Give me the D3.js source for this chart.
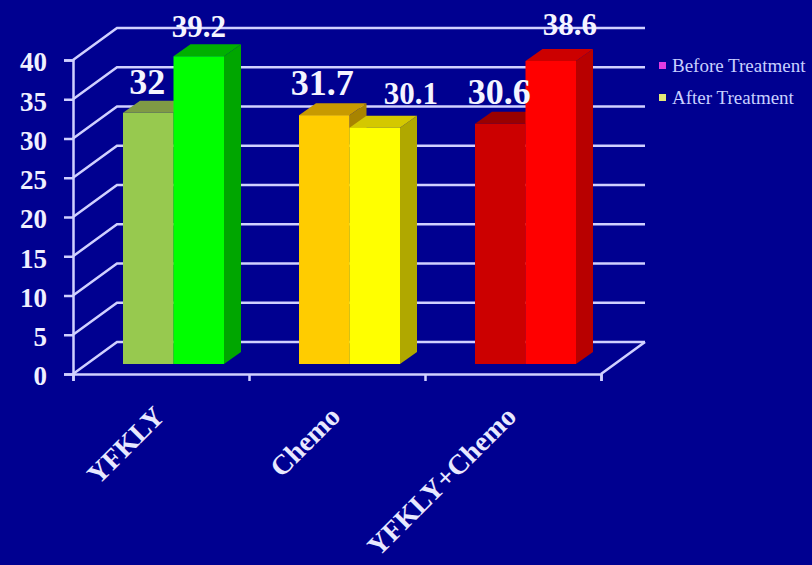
<!DOCTYPE html>
<html>
<head>
<meta charset="utf-8">
<script src="https://cdn.jsdelivr.net/npm/d3@7/dist/d3.min.js"></script>
<style>
  html, body { margin: 0; padding: 0; background: #000090; }
  svg { display: block; }
  text { font-family: "Liberation Serif", serif; }
</style>
</head>
<body>
<svg id="chart" width="812" height="565"></svg>
<script>
const categories = ["YFKLY", "Chemo", "YFKLY+Chemo"];
const seriesNames = ["Before Treatment", "After Treatment"];
const beforeTreatment = [32, 31.7, 30.6];
const afterTreatment = [39.2, 30.1, 38.6];
const yTicks = [0, 5, 10, 15, 20, 25, 30, 35, 40];

// Each bar has its own fill: front, side and top faces.
const beforeFaces = [
  ["#97c94f", "#5f8a2a", "#7f9a45"],
  ["#ffcc00", "#a88400", "#c89a00"],
  ["#cc0000", "#8c0000", "#990000"]
];
const afterFaces = [
  ["#00ff00", "#00a600", "#00b000"],
  ["#ffff00", "#b0a800", "#d4c800"],
  ["#ff0000", "#b80000", "#cc0000"]
];
const legendColors = ["#e23ce2", "#e4e878"];

// Label shifts relative to the top centre of each bar.
const beforeLabelShift = [[-1, -19], [-2, -20], [-1, -20]];
const afterLabelShift = [[0, -19], [36, -24], [19, -26]];

const INK = "#d0d0ff";
const svg = d3.select("#chart");

const plot = { left: 73, right: 601, top: 60, bottom: 374 };
const wall = { dx: 44, dy: -32 };     // depth of the chart box
const barDepth = { dx: 17, dy: -12 }; // depth of a single bar
const barLift = -10;                  // bars stand inside the floor

const y = d3.scaleLinear().domain([0, 40]).range([plot.bottom, plot.top]);
const x0 = d3.scaleBand().domain(categories).range([plot.left, plot.right]);
const x1 = d3.scaleBand().domain(seriesNames).range([50, 151]);

// Back wall gridlines with their receding left segment, plus the floor edge.
const grid = svg.append("g").attr("fill", "none").attr("stroke", INK).attr("stroke-width", 2.5);
grid.selectAll("path").data(yTicks).join("path")
  .attr("d", t => d3.line()([
    [plot.left, y(t)],
    [plot.left + wall.dx, y(t) + wall.dy],
    [plot.right + wall.dx, y(t) + wall.dy]
  ]));
grid.append("path").attr("d", d3.line()([
  [plot.right, plot.bottom],
  [plot.right + wall.dx, plot.bottom + wall.dy]
]));

// Axes
const yAxis = svg.append("g")
  .attr("transform", `translate(${plot.left},0)`)
  .call(d3.axisLeft(y).tickValues(yTicks).tickSize(9).tickPadding(17));
const xAxis = svg.append("g")
  .attr("transform", `translate(0,${plot.bottom})`)
  .call(d3.axisBottom(d3.scaleLinear().domain([0, 3]).range([plot.left, plot.right]))
    .tickValues([0, 1, 2, 3]).tickSize(7).tickFormat(""));
[yAxis, xAxis].forEach(a => {
  a.selectAll("path, line").attr("stroke", INK).attr("stroke-width", 2.5);
});
yAxis.selectAll("text")
  .attr("fill", "#f0f0ff")
  .attr("font-size", 27)
  .attr("font-weight", "bold")
  .attr("dy", "0.4em")
  .style("font-family", '"Liberation Serif", serif');

// Bars, before then after, so the nearer neighbour overlaps the side face.
const bars = categories.flatMap((c, i) => [
  { c, i, s: seriesNames[0], v: beforeTreatment[i], faces: beforeFaces[i], shift: beforeLabelShift[i], size: 36 },
  { c, i, s: seriesNames[1], v: afterTreatment[i], faces: afterFaces[i], shift: afterLabelShift[i], size: 31 }
]);

const barG = svg.append("g").selectAll("g").data(bars).join("g");
const geom = d => {
  const l = x0(d.c) + x1(d.s), r = l + x1.bandwidth();
  const t = y(d.v) + barLift, b = y(0) + barLift;
  return { l, r, t, b };
};
barG.append("path").attr("fill", d => d.faces[1]).attr("d", d => {
  const { r, t, b } = geom(d);
  return d3.line()([[r, t], [r + barDepth.dx, t + barDepth.dy], [r + barDepth.dx, b + barDepth.dy], [r, b]]) + "Z";
});
barG.append("path").attr("fill", d => d.faces[2]).attr("d", d => {
  const { l, r, t } = geom(d);
  return d3.line()([[l, t], [l + barDepth.dx, t + barDepth.dy], [r + barDepth.dx, t + barDepth.dy], [r, t]]) + "Z";
});
barG.append("rect").attr("fill", d => d.faces[0])
  .attr("x", d => geom(d).l)
  .attr("y", d => geom(d).t)
  .attr("width", x1.bandwidth())
  .attr("height", d => geom(d).b - geom(d).t);

// Value labels above the bars
svg.append("g").selectAll("text").data(bars).join("text")
  .attr("x", d => geom(d).l + x1.bandwidth() / 2 + d.shift[0])
  .attr("y", d => geom(d).t + d.shift[1])
  .attr("text-anchor", "middle")
  .attr("font-size", d => d.size)
  .attr("font-weight", "bold")
  .attr("fill", "#f4f4ff")
  .text(d => d.v);

// Slanted category labels, ending just under the middle of each group
svg.append("g").selectAll("text").data(categories).join("text")
  .attr("text-anchor", "end")
  .attr("font-size", 28)
  .attr("font-weight", "bold")
  .attr("fill", "#e8e8ff")
  .attr("transform", d => `translate(${x0(d) + x0.bandwidth() / 2 + 5},${plot.bottom + 44}) rotate(-45)`)
  .text(d => d);

// Legend
const legend = svg.append("g").selectAll("g").data(seriesNames).join("g")
  .attr("transform", (d, i) => `translate(659,${66 + i * 32})`);
legend.append("rect")
  .attr("x", 0).attr("y", -4).attr("width", 7).attr("height", 7)
  .attr("fill", (d, i) => legendColors[i]);
legend.append("text")
  .attr("x", 13).attr("y", 6)
  .attr("font-size", 19)
  .attr("fill", "#c8d0ff")
  .text(d => d);
</script>
</body>
</html>
